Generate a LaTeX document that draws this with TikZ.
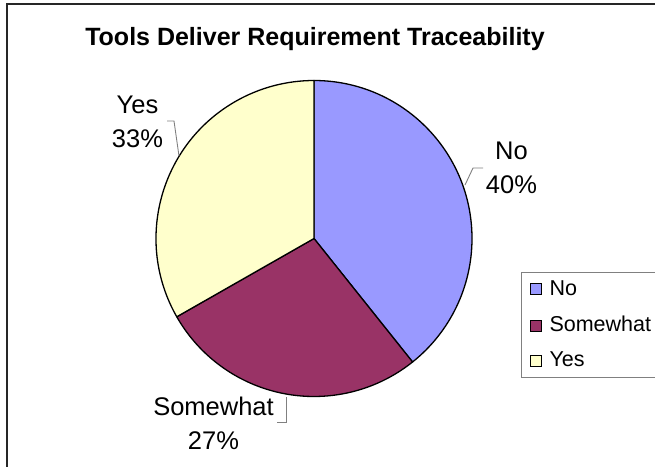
\documentclass[tikz,border=0pt]{standalone}
\usepackage{fontspec}
\setmainfont{Liberation Sans}
\definecolor{sliceNo}{HTML}{9999FF}
\definecolor{sliceSome}{HTML}{993366}
\definecolor{sliceYes}{HTML}{FFFFCC}
\definecolor{leadergray}{HTML}{808080}
\tikzset{
  slice/.style={draw=black, line width=1.3pt, line join=round},
  leaderline/.style={draw=leadergray, line width=0.9pt},
  pielabel/.style={font=\fontsize{25.5}{30}\selectfont, anchor=base, inner sep=0pt},
  legtext/.style={font=\fontsize{21.5}{25}\selectfont, anchor=base west, inner sep=0pt},
  legkey/.style={draw=black, line width=1pt, minimum size=11pt, inner sep=0pt},
  charttitle/.style={font=\bfseries\fontsize{25}{28}\selectfont, anchor=base, inner sep=0pt}
}
\begin{document}
\begin{tikzpicture}[x=1pt, y=-1pt]
  \useasboundingbox (0,0) rectangle (655,466);
  \clip (0,0) rectangle (655,466);
  \fill[white] (0,0) rectangle (655,466);

  % chart area frame
  \draw[draw=black!85, line width=2pt] (7,4) rectangle (720,520);

  % title
  \node[charttitle] (title) at (315,45) {Tools Deliver Requirement Traceability};

  % pie (angles run clockwise on the page because y points down)
  \coordinate (C) at (314,238.5);
  \def\R{158}
  \filldraw[slice, fill=sliceNo]   (C) -- ++(-90:\R) arc[start angle=-90,  end angle=51.4,  radius=\R] -- cycle;
  \filldraw[slice, fill=sliceSome] (C) -- ++(51.4:\R) arc[start angle=51.4, end angle=150.3, radius=\R] -- cycle;
  \filldraw[slice, fill=sliceYes]  (C) -- ++(150.3:\R) arc[start angle=150.3, end angle=270, radius=\R] -- cycle;

  % data labels
  \node[pielabel] (labNo)   at (511.5,159.3) {No};
  \node[pielabel] (pctNo)   at (511.5,193.3) {40\%};
  \node[pielabel] (labYes)  at (137.5,113.3) {Yes};
  \node[pielabel] (pctYes)  at (137.5,147.3) {33\%};
  \node[pielabel] (labSome) at (213.5,415)   {Somewhat};
  \node[pielabel] (pctSome) at (213.5,449)   {27\%};

  % leader lines
  \coordinate (edgeNo)   at (465,185);
  \coordinate (kneeNo)   at (473,168);
  \coordinate (endNo)    at (483,168);
  \coordinate (edgeYes)  at (179,156);
  \coordinate (kneeYes)  at (174,121);
  \coordinate (endYes)   at (167,121);
  \coordinate (edgeSome) at (286,397);
  \coordinate (kneeSome) at (286,422);
  \coordinate (endSome)  at (277,422);
  \draw[leaderline] (edgeNo) -- (kneeNo) -- (endNo);
  \draw[leaderline] (edgeYes) -- (kneeYes) -- (endYes);
  \draw[leaderline] (edgeSome) -- (kneeSome) -- (endSome);

  % legend
  \draw[draw=leadergray, line width=1pt] (521,272) rectangle (720,377);
  \node[legkey, fill=sliceNo]   (keyNo)   at (535.5,289)   {};
  \node[legkey, fill=sliceSome] (keySome) at (535.5,325.5) {};
  \node[legkey, fill=sliceYes]  (keyYes)  at (535.5,360.5) {};
  \node[legtext] (txtNo)   at (549.3,295) {No};
  \node[legtext] (txtSome) at (549.3,331) {Somewhat};
  \node[legtext] (txtYes)  at (549.3,366) {Yes};
\end{tikzpicture}
\end{document}
